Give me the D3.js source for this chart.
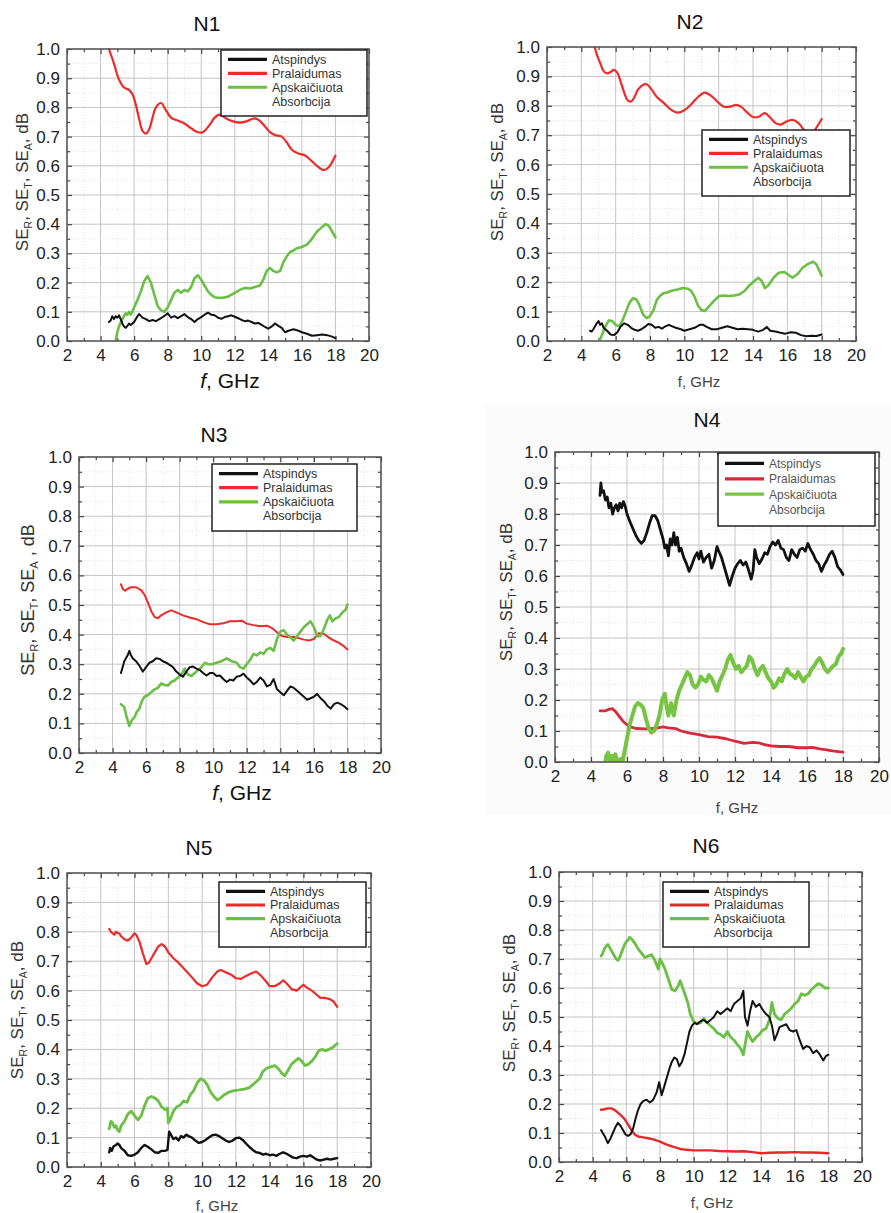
<!DOCTYPE html>
<html><head><meta charset="utf-8">
<script src="https://cdn.jsdelivr.net/npm/d3@7"></script>
<style>body{margin:0;background:#fff}svg{display:block}</style>
</head><body>
<script>
// ---------- DATA ----------
const xTicks = [2,4,6,8,10,12,14,16,18,20];
const yTicks = [0,0.1,0.2,0.3,0.4,0.5,0.6,0.7,0.8,0.9,1.0];
const xMinor = [3,5,7,9,11,13,15,17,19];
const yMinor = [0.05,0.15,0.25,0.35,0.45,0.55,0.65,0.75,0.85,0.95];
const panelTitles = ["N1","N2","N3","N4","N5","N6"];
const legendLabels = ["Atspindys","Pralaidumas","Apskaičiuota","Absorbcija"];

// N1
const n1R = [[4.5,.065],[4.6,.07],[4.7,.085],[4.8,.075],[4.9,.085],[5.0,.08],[5.1,.088],[5.2,.075],[5.3,.06],[5.4,.05],[5.5,.045],[5.6,.052],[5.7,.06],[5.8,.055],[6.0,.065],[6.2,.085],[6.3,.092],[6.5,.08],[6.7,.075],[6.9,.068],[7.1,.072],[7.3,.068],[7.5,.075],[7.7,.082],[7.9,.09],[8.0,.095],[8.2,.08],[8.4,.085],[8.6,.078],[8.8,.085],[9.0,.092],[9.2,.082],[9.4,.075],[9.6,.065],[9.8,.075],[10.0,.082],[10.2,.09],[10.4,.097],[10.6,.09],[10.8,.088],[11.0,.08],[11.2,.076],[11.4,.082],[11.6,.085],[11.8,.088],[12.0,.083],[12.2,.078],[12.4,.072],[12.6,.068],[12.8,.07],[13.0,.065],[13.2,.06],[13.4,.062],[13.6,.055],[13.8,.048],[14.0,.042],[14.2,.05],[14.4,.06],[14.6,.052],[14.8,.045],[15.0,.03],[15.2,.035],[15.5,.04],[15.8,.035],[16.0,.03],[16.3,.025],[16.6,.018],[16.9,.02],[17.2,.022],[17.5,.02],[17.8,.015],[18.0,.01]];
const n1T = [[4.5,1.0],[4.8,.95],[5.1,.895],[5.4,.868],[5.7,.86],[5.9,.845],[6.1,.81],[6.3,.76],[6.5,.72],[6.7,.71],[6.9,.725],[7.1,.765],[7.3,.8],[7.6,.815],[7.9,.79],[8.2,.765],[8.6,.755],[9.0,.745],[9.4,.728],[9.8,.715],[10.1,.715],[10.5,.74],[10.8,.765],[11.1,.775],[11.5,.762],[11.9,.752],[12.3,.748],[12.7,.752],[13.1,.762],[13.4,.758],[13.8,.735],[14.1,.715],[14.4,.705],[14.8,.7],[15.1,.68],[15.4,.655],[15.8,.642],[16.2,.635],[16.6,.615],[17.0,.595],[17.3,.585],[17.6,.595],[18.0,.635]];
const n1A = [[4.9,0],[5.0,.03],[5.1,.05],[5.3,.075],[5.5,.095],[5.6,.09],[5.7,.1],[5.8,.09],[6.0,.115],[6.2,.14],[6.4,.17],[6.6,.205],[6.8,.222],[7.0,.2],[7.2,.16],[7.4,.12],[7.6,.105],[7.8,.1],[8.0,.115],[8.2,.14],[8.4,.165],[8.6,.175],[8.8,.165],[9.0,.175],[9.2,.17],[9.4,.185],[9.6,.215],[9.8,.225],[10.0,.21],[10.2,.19],[10.4,.17],[10.6,.158],[10.8,.15],[11.0,.148],[11.3,.148],[11.6,.152],[12.0,.165],[12.3,.175],[12.6,.182],[12.9,.18],[13.2,.185],[13.5,.19],[13.7,.21],[13.9,.24],[14.1,.25],[14.3,.24],[14.5,.235],[14.7,.24],[14.9,.27],[15.1,.29],[15.3,.305],[15.5,.31],[15.7,.318],[16.0,.322],[16.3,.33],[16.6,.35],[16.9,.375],[17.2,.39],[17.4,.4],[17.6,.395],[17.8,.375],[18.0,.355]];

// N2
const n2R = [[4.5,.035],[4.6,.032],[4.7,.04],[4.8,.05],[4.9,.06],[5.0,.068],[5.1,.055],[5.2,.06],[5.3,.045],[5.5,.035],[5.7,.022],[5.9,.02],[6.1,.03],[6.3,.05],[6.5,.06],[6.7,.055],[6.9,.045],[7.1,.038],[7.3,.035],[7.5,.04],[7.7,.048],[7.9,.058],[8.1,.055],[8.3,.045],[8.5,.048],[8.7,.042],[8.9,.05],[9.1,.055],[9.3,.05],[9.5,.045],[9.8,.04],[10.0,.035],[10.3,.04],[10.6,.045],[10.9,.055],[11.1,.055],[11.3,.048],[11.6,.04],[11.9,.04],[12.2,.045],[12.5,.05],[12.8,.045],[13.1,.04],[13.4,.042],[13.7,.04],[14.0,.038],[14.3,.032],[14.6,.038],[14.8,.048],[15.0,.035],[15.3,.032],[15.6,.028],[15.9,.025],[16.2,.03],[16.5,.028],[16.8,.02],[17.1,.016],[17.4,.018],[17.7,.017],[18.0,.022]];
const n2T = [[4.78,1.0],[4.9,.975],[5.1,.945],[5.3,.918],[5.5,.91],[5.7,.915],[5.9,.922],[6.1,.912],[6.3,.88],[6.5,.845],[6.7,.818],[6.9,.815],[7.1,.83],[7.3,.855],[7.6,.872],[7.8,.873],[8.1,.855],[8.4,.83],[8.8,.81],[9.2,.788],[9.6,.777],[10.0,.785],[10.4,.805],[10.8,.83],[11.2,.845],[11.6,.832],[12.0,.81],[12.3,.797],[12.7,.797],[13.0,.803],[13.3,.797],[13.7,.775],[14.0,.762],[14.3,.762],[14.7,.775],[15.0,.76],[15.3,.742],[15.6,.736],[15.9,.745],[16.3,.752],[16.7,.738],[17.0,.715],[17.3,.702],[17.6,.718],[18.0,.755]];
const n2A = [[5.05,0],[5.2,.02],[5.4,.05],[5.6,.07],[5.8,.068],[6.0,.055],[6.2,.05],[6.4,.07],[6.6,.1],[6.8,.13],[7.0,.145],[7.2,.142],[7.4,.12],[7.6,.09],[7.8,.078],[8.0,.085],[8.2,.105],[8.4,.14],[8.6,.155],[8.8,.163],[9.0,.165],[9.3,.172],[9.6,.175],[9.9,.18],[10.2,.178],[10.4,.17],[10.6,.15],[10.8,.12],[11.0,.105],[11.2,.102],[11.4,.115],[11.7,.135],[12.0,.152],[12.3,.155],[12.6,.153],[12.9,.155],[13.2,.158],[13.5,.17],[13.8,.19],[14.1,.205],[14.3,.215],[14.5,.205],[14.7,.18],[14.9,.19],[15.2,.215],[15.5,.232],[15.8,.235],[16.0,.228],[16.3,.215],[16.6,.228],[16.9,.25],[17.2,.262],[17.5,.27],[17.7,.26],[17.9,.235],[18.0,.222]];

// N3
const n3R = [[4.5,.27],[4.6,.29],[4.7,.31],[4.8,.32],[4.9,.33],[5.0,.345],[5.1,.33],[5.2,.32],[5.4,.31],[5.6,.295],[5.8,.275],[6.0,.29],[6.2,.305],[6.4,.31],[6.6,.32],[6.8,.318],[7.0,.31],[7.2,.305],[7.4,.298],[7.6,.29],[7.8,.275],[8.0,.265],[8.2,.258],[8.4,.275],[8.6,.29],[8.8,.292],[9.0,.285],[9.2,.28],[9.4,.27],[9.6,.262],[9.8,.27],[10.0,.27],[10.2,.26],[10.4,.262],[10.6,.25],[10.8,.24],[11.0,.248],[11.2,.245],[11.4,.258],[11.6,.26],[11.8,.268],[12.0,.255],[12.2,.245],[12.4,.232],[12.6,.24],[12.8,.255],[13.0,.245],[13.2,.225],[13.4,.23],[13.6,.25],[13.8,.215],[14.0,.205],[14.2,.195],[14.4,.21],[14.6,.225],[14.8,.22],[15.0,.21],[15.2,.2],[15.4,.19],[15.6,.18],[15.8,.185],[16.0,.19],[16.2,.2],[16.4,.185],[16.6,.175],[16.8,.16],[17.0,.15],[17.2,.165],[17.4,.17],[17.6,.165],[17.8,.158],[18.0,.148]];
const n3T = [[4.5,.57],[4.6,.555],[4.75,.548],[4.9,.555],[5.1,.56],[5.4,.56],[5.7,.55],[5.9,.535],[6.1,.51],[6.3,.48],[6.5,.46],[6.7,.455],[6.9,.465],[7.2,.475],[7.5,.482],[7.8,.475],[8.2,.465],[8.6,.458],[9.0,.452],[9.4,.442],[9.8,.435],[10.2,.435],[10.6,.438],[11.0,.445],[11.4,.445],[11.7,.447],[12.0,.437],[12.4,.432],[12.8,.428],[13.2,.43],[13.5,.422],[13.8,.408],[14.1,.395],[14.4,.392],[14.8,.393],[15.1,.388],[15.4,.383],[15.7,.38],[16.0,.385],[16.3,.405],[16.6,.402],[16.9,.39],[17.2,.38],[17.5,.372],[17.8,.36],[18.0,.35]];
const n3A = [[4.5,.165],[4.6,.16],[4.7,.155],[4.8,.13],[4.9,.11],[5.0,.092],[5.1,.105],[5.2,.115],[5.3,.12],[5.45,.14],[5.6,.15],[5.75,.175],[5.9,.19],[6.1,.195],[6.3,.205],[6.5,.215],[6.7,.22],[6.9,.235],[7.1,.23],[7.3,.228],[7.5,.24],[7.7,.245],[7.9,.255],[8.1,.265],[8.3,.285],[8.5,.265],[8.7,.26],[8.9,.27],[9.1,.28],[9.3,.29],[9.5,.305],[9.7,.3],[9.9,.3],[10.2,.305],[10.5,.31],[10.8,.32],[11.1,.31],[11.4,.305],[11.6,.29],[11.8,.285],[12.0,.3],[12.2,.315],[12.4,.335],[12.6,.33],[12.8,.34],[13.0,.335],[13.2,.35],[13.4,.355],[13.6,.345],[13.8,.385],[14.0,.41],[14.2,.415],[14.4,.4],[14.6,.39],[14.8,.38],[15.0,.395],[15.2,.41],[15.4,.425],[15.6,.435],[15.8,.445],[16.0,.425],[16.2,.395],[16.4,.395],[16.6,.42],[16.8,.45],[16.95,.465],[17.1,.445],[17.3,.455],[17.5,.46],[17.7,.475],[17.9,.485],[18.0,.502]];

// N4
const n4R = [[4.5,.86],[4.55,.9],[4.6,.87],[4.7,.875],[4.8,.845],[4.9,.855],[5.0,.82],[5.1,.835],[5.2,.8],[5.3,.82],[5.4,.83],[5.5,.81],[5.6,.835],[5.7,.82],[5.8,.84],[5.9,.825],[6.0,.8],[6.1,.785],[6.2,.77],[6.35,.75],[6.5,.73],[6.65,.715],[6.8,.705],[6.95,.715],[7.1,.74],[7.25,.77],[7.4,.795],[7.55,.795],[7.7,.78],[7.85,.75],[8.0,.72],[8.1,.69],[8.2,.7],[8.3,.665],[8.4,.72],[8.5,.7],[8.6,.74],[8.7,.7],[8.8,.725],[8.9,.68],[9.0,.69],[9.15,.66],[9.3,.64],[9.45,.615],[9.6,.635],[9.75,.66],[9.9,.675],[10.0,.655],[10.1,.68],[10.25,.645],[10.4,.66],[10.55,.67],[10.7,.625],[10.85,.65],[11.0,.695],[11.1,.68],[11.25,.66],[11.4,.63],[11.55,.6],[11.7,.57],[11.85,.6],[12.0,.625],[12.15,.64],[12.3,.65],[12.45,.635],[12.6,.645],[12.75,.62],[12.9,.59],[13.0,.615],[13.1,.685],[13.2,.66],[13.35,.64],[13.5,.655],[13.65,.675],[13.8,.67],[13.95,.695],[14.1,.71],[14.25,.7],[14.4,.715],[14.55,.69],[14.7,.685],[14.85,.66],[15.0,.65],[15.15,.685],[15.3,.67],[15.45,.66],[15.6,.685],[15.75,.69],[15.9,.68],[16.05,.705],[16.2,.685],[16.35,.67],[16.5,.65],[16.65,.64],[16.8,.615],[16.95,.635],[17.1,.65],[17.25,.67],[17.4,.68],[17.55,.66],[17.7,.63],[17.85,.62],[18.0,.605]];
const n4T = [[4.5,.165],[4.8,.165],[5.0,.17],[5.2,.172],[5.4,.16],[5.6,.145],[5.8,.13],[6.0,.12],[6.2,.113],[6.5,.108],[7.0,.107],[7.5,.108],[8.0,.113],[8.3,.11],[8.7,.108],[9.0,.1],[9.5,.093],[10.0,.088],[10.5,.082],[11.0,.08],[11.5,.075],[12.0,.067],[12.5,.06],[13.0,.063],[13.3,.062],[13.7,.055],[14.0,.052],[14.5,.05],[15.0,.05],[15.5,.046],[16.0,.046],[16.3,.047],[16.7,.042],[17.0,.04],[17.5,.035],[18.0,.032]];
const n4A = [[4.8,0],[4.85,.02],[4.95,.03],[5.05,.005],[5.15,.02],[5.25,0],[5.35,.025],[5.45,.005],[5.55,0],[5.65,.01],[5.75,0],[5.85,.03],[5.95,.06],[6.05,.09],[6.15,.12],[6.3,.15],[6.45,.18],[6.6,.19],[6.75,.185],[6.9,.175],[7.05,.14],[7.2,.11],[7.35,.095],[7.5,.1],[7.65,.12],[7.8,.15],[7.95,.2],[8.1,.22],[8.2,.18],[8.3,.15],[8.45,.19],[8.6,.15],[8.75,.2],[8.9,.23],[9.05,.25],[9.2,.27],[9.35,.29],[9.5,.28],[9.65,.25],[9.8,.24],[9.95,.25],[10.1,.275],[10.25,.265],[10.4,.26],[10.55,.28],[10.7,.27],[10.85,.25],[11.0,.23],[11.15,.26],[11.3,.28],[11.45,.3],[11.6,.33],[11.75,.345],[11.9,.32],[12.05,.3],[12.2,.31],[12.35,.29],[12.5,.3],[12.65,.31],[12.8,.34],[12.95,.33],[13.1,.3],[13.25,.28],[13.4,.3],[13.55,.31],[13.7,.29],[13.85,.27],[14.0,.26],[14.15,.24],[14.3,.25],[14.45,.27],[14.6,.26],[14.75,.285],[14.9,.3],[15.05,.285],[15.2,.28],[15.35,.27],[15.5,.29],[15.65,.275],[15.8,.26],[15.95,.275],[16.1,.28],[16.25,.3],[16.4,.31],[16.55,.325],[16.7,.335],[16.85,.32],[17.0,.3],[17.15,.29],[17.3,.3],[17.45,.31],[17.6,.315],[17.75,.34],[17.9,.35],[18.0,.365]];

// N5
const n5R = [[4.5,.05],[4.55,.065],[4.65,.055],[4.75,.07],[4.9,.075],[5.0,.08],[5.1,.075],[5.2,.065],[5.4,.055],[5.6,.04],[5.8,.038],[6.0,.042],[6.2,.05],[6.4,.065],[6.6,.075],[6.8,.068],[7.0,.06],[7.2,.05],[7.4,.048],[7.6,.055],[7.8,.055],[7.95,.058],[8.05,.12],[8.15,.11],[8.3,.095],[8.45,.1],[8.6,.09],[8.75,.105],[8.9,.1],[9.05,.11],[9.2,.105],[9.4,.1],[9.6,.09],[9.8,.082],[10.0,.085],[10.2,.092],[10.4,.1],[10.6,.108],[10.8,.11],[11.0,.105],[11.2,.098],[11.4,.09],[11.6,.085],[11.8,.09],[12.0,.098],[12.2,.1],[12.4,.092],[12.6,.08],[12.8,.068],[13.0,.058],[13.2,.05],[13.4,.048],[13.6,.042],[13.8,.045],[14.0,.04],[14.2,.042],[14.4,.038],[14.6,.045],[14.8,.05],[15.0,.045],[15.2,.038],[15.4,.032],[15.6,.03],[15.8,.035],[16.0,.038],[16.2,.035],[16.4,.04],[16.6,.032],[16.8,.025],[17.0,.022],[17.2,.025],[17.4,.028],[17.6,.025],[17.8,.028],[18.0,.03]];
const n5T = [[4.5,.81],[4.6,.8],[4.7,.795],[4.8,.79],[4.9,.8],[5.0,.795],[5.1,.795],[5.2,.785],[5.4,.775],[5.6,.77],[5.8,.78],[6.0,.795],[6.1,.79],[6.3,.765],[6.5,.725],[6.7,.69],[6.85,.695],[7.0,.71],[7.2,.73],[7.4,.75],[7.6,.758],[7.8,.75],[8.0,.73],[8.3,.71],[8.6,.695],[9.0,.67],[9.4,.645],[9.7,.625],[10.0,.615],[10.3,.62],[10.6,.645],[10.9,.665],[11.1,.67],[11.4,.662],[11.7,.655],[12.0,.642],[12.3,.64],[12.6,.65],[12.9,.658],[13.2,.665],[13.5,.65],[13.8,.63],[14.0,.615],[14.3,.615],[14.6,.625],[14.8,.635],[15.0,.625],[15.3,.605],[15.6,.6],[15.8,.61],[16.0,.62],[16.2,.61],[16.5,.6],[16.8,.585],[17.0,.575],[17.3,.575],[17.6,.57],[17.8,.562],[18.0,.545]];
const n5A = [[4.5,.13],[4.6,.155],[4.7,.15],[4.8,.135],[4.9,.14],[5.0,.125],[5.1,.12],[5.2,.14],[5.4,.155],[5.6,.18],[5.8,.19],[6.0,.175],[6.2,.16],[6.4,.175],[6.6,.21],[6.8,.235],[7.0,.24],[7.2,.235],[7.4,.225],[7.6,.205],[7.8,.195],[7.95,.2],[8.0,.15],[8.1,.16],[8.3,.19],[8.5,.205],[8.7,.21],[8.9,.225],[9.1,.22],[9.3,.245],[9.5,.26],[9.7,.285],[9.9,.3],[10.1,.295],[10.3,.28],[10.5,.255],[10.7,.24],[10.9,.228],[11.1,.235],[11.3,.245],[11.6,.255],[11.9,.26],[12.2,.262],[12.5,.265],[12.8,.27],[13.1,.285],[13.4,.3],[13.6,.325],[13.8,.335],[14.0,.34],[14.3,.345],[14.5,.335],[14.7,.32],[14.9,.31],[15.1,.33],[15.3,.35],[15.5,.36],[15.7,.37],[15.9,.36],[16.1,.345],[16.3,.35],[16.5,.36],[16.7,.375],[16.9,.395],[17.1,.4],[17.3,.395],[17.5,.4],[17.7,.405],[17.9,.415],[18.0,.42]];

// N6
const n6R = [[4.5,.11],[4.6,.1],[4.75,.085],[4.9,.065],[5.05,.08],[5.2,.1],[5.35,.12],[5.5,.135],[5.65,.125],[5.8,.11],[5.95,.095],[6.1,.09],[6.25,.095],[6.4,.115],[6.55,.15],[6.7,.18],[6.85,.2],[7.0,.21],[7.2,.215],[7.4,.205],[7.6,.215],[7.8,.24],[7.95,.275],[8.1,.23],[8.25,.26],[8.4,.29],[8.55,.32],[8.7,.345],[8.85,.36],[9.0,.355],[9.15,.33],[9.3,.345],[9.45,.37],[9.6,.41],[9.75,.45],[9.9,.47],[10.05,.48],[10.2,.475],[10.4,.485],[10.6,.49],[10.8,.48],[11.0,.49],[11.2,.5],[11.4,.52],[11.6,.51],[11.8,.52],[12.0,.53],[12.2,.52],[12.4,.545],[12.6,.555],[12.8,.565],[12.95,.59],[13.05,.5],[13.2,.47],[13.35,.52],[13.5,.555],[13.7,.535],[13.9,.545],[14.1,.525],[14.3,.51],[14.5,.5],[14.65,.47],[14.8,.42],[14.95,.44],[15.1,.465],[15.3,.47],[15.5,.475],[15.7,.455],[15.9,.45],[16.1,.455],[16.3,.42],[16.5,.39],[16.7,.4],[16.9,.395],[17.1,.375],[17.3,.385],[17.5,.37],[17.7,.35],[17.85,.365],[18.0,.37]];
const n6T = [[4.5,.18],[4.7,.182],[4.9,.185],[5.1,.185],[5.3,.18],[5.5,.17],[5.7,.16],[5.9,.148],[6.1,.13],[6.3,.11],[6.5,.095],[6.7,.088],[7.0,.085],[7.3,.082],[7.6,.078],[8.0,.07],[8.4,.06],[8.8,.052],[9.2,.045],[9.6,.042],[10.0,.04],[10.5,.04],[11.0,.04],[11.5,.038],[12.0,.037],[12.5,.036],[13.0,.037],[13.5,.034],[14.0,.03],[14.5,.032],[15.0,.033],[15.5,.033],[16.0,.034],[16.5,.033],[17.0,.033],[17.5,.032],[18.0,.03]];
const n6A = [[4.5,.71],[4.6,.72],[4.7,.735],[4.8,.745],[4.9,.75],[5.0,.74],[5.1,.73],[5.2,.72],[5.3,.71],[5.4,.7],[5.5,.695],[5.6,.705],[5.7,.72],[5.8,.735],[5.9,.75],[6.0,.76],[6.1,.765],[6.2,.775],[6.3,.77],[6.5,.755],[6.7,.735],[6.9,.72],[7.1,.705],[7.3,.71],[7.5,.715],[7.7,.695],[7.9,.665],[8.0,.7],[8.1,.69],[8.3,.665],[8.5,.63],[8.7,.595],[8.9,.59],[9.1,.61],[9.2,.625],[9.35,.6],[9.5,.575],[9.65,.55],[9.8,.51],[10.0,.485],[10.2,.478],[10.4,.48],[10.6,.495],[10.8,.48],[11.0,.47],[11.2,.46],[11.4,.445],[11.6,.44],[11.8,.43],[12.0,.45],[12.2,.43],[12.4,.42],[12.6,.405],[12.8,.39],[12.95,.37],[13.1,.42],[13.2,.45],[13.35,.43],[13.5,.415],[13.7,.43],[13.9,.44],[14.1,.455],[14.3,.46],[14.5,.49],[14.65,.55],[14.8,.51],[15.0,.495],[15.2,.49],[15.4,.51],[15.6,.52],[15.8,.53],[16.0,.545],[16.2,.555],[16.4,.58],[16.6,.575],[16.8,.58],[17.0,.595],[17.2,.605],[17.4,.615],[17.6,.61],[17.8,.6],[18.0,.6]];

// ---------- LAYOUT ----------
const FONT = "'Liberation Sans', Arial, Helvetica, sans-serif";
const panels = [
  {title:0, R:n1R, T:n1T, A:n1A, l:67, r:369, t:49, b:341, tx:207, ty:31,
   leg:[221,50,146,66], ylx:28, yly:182, ysz:17, xl:{x:230,y:388,size:21,italic:true},
   col:{R:"#111",T:"#ee2a2a",A:"#6cbf45"}, w:{R:2,T:2.2,A:2.6}},
  {title:1, R:n2R, T:n2T, A:n2A, l:547, r:856, t:47, b:341, tx:690, ty:29,
   leg:[702,130,148,66], ylx:503, yly:172, ysz:17, xl:{x:699,y:387,size:15,italic:false},
   col:{R:"#111",T:"#ee2a2a",A:"#6cbf45"}, w:{R:2,T:2.2,A:2.6}},
  {title:2, R:n3R, T:n3T, A:n3A, l:79, r:381, t:457, b:753, tx:214, ty:442,
   leg:[212,464,145,67], ylx:34, yly:600, ysz:18, wide:true, xl:{x:242,y:800,size:21,italic:true},
   col:{R:"#111",T:"#ee2a2a",A:"#6cbf45"}, w:{R:2,T:2,A:2.6}},
  {title:3, R:n4R, T:n4T, A:n4A, l:555, r:879, t:452, b:762, tx:707, ty:427,
   leg:[718,453,157,73], ylx:512, yly:592, ysz:17, xl:{x:737,y:813,size:15,italic:false}, bg:true,
   col:{R:"#111",T:"#d42a3c",A:"#76c442"}, w:{R:2.8,T:2.8,A:4}},
  {title:4, R:n5R, T:n5T, A:n5A, l:67, r:371, t:873, b:1167, tx:199, ty:855,
   leg:[219,882,147,65], ylx:23, yly:1010, ysz:17, xl:{x:217,y:1211,size:15,italic:false},
   col:{R:"#111",T:"#ee2a2a",A:"#6cbf45"}, w:{R:2.4,T:2.2,A:2.8}},
  {title:5, R:n6R, T:n6T, A:n6A, l:559, r:862, t:872, b:1162, tx:706, ty:853,
   leg:[663,882,146,65], ylx:515, yly:1003, ysz:17, xl:{x:712,y:1208,size:15,italic:false},
   col:{R:"#111",T:"#e22a2a",A:"#6cbf45"}, w:{R:2,T:2.4,A:2.8}}
];

const svg = d3.select("body").append("svg").attr("width",891).attr("height",1213)
  .style("font-family",FONT);
svg.append("rect").attr("width",891).attr("height",1213).attr("fill","#fff");

panels.forEach((p,i)=>{
  const g = svg.append("g");
  if(p.bg) g.append("rect").attr("x",485).attr("y",405).attr("width",406).attr("height",410).attr("fill","#fbfbfb");
  const x = d3.scaleLinear().domain([2,20]).range([p.l,p.r]);
  const y = d3.scaleLinear().domain([0,1]).range([p.b,p.t]);
  g.append("rect").attr("x",p.l).attr("y",p.t).attr("width",p.r-p.l).attr("height",p.b-p.t).attr("fill","#fff");

  // minor grid
  g.selectAll(".mgx").data(xMinor).join("line").attr("x1",d=>x(d)).attr("x2",d=>x(d)).attr("y1",p.t).attr("y2",p.b)
    .attr("stroke","#dcdcdc").attr("stroke-width",0.8).attr("stroke-dasharray","1,2");
  g.selectAll(".mgy").data(yMinor).join("line").attr("y1",d=>y(d)).attr("y2",d=>y(d)).attr("x1",p.l).attr("x2",p.r)
    .attr("stroke","#dcdcdc").attr("stroke-width",0.8).attr("stroke-dasharray","1,2");
  // major grid
  g.append("g").selectAll("line").data(xTicks).join("line").attr("x1",d=>x(d)).attr("x2",d=>x(d)).attr("y1",p.t).attr("y2",p.b)
    .attr("stroke","#c4c4c4").attr("stroke-width",1);
  g.append("g").selectAll("line").data(yTicks).join("line").attr("y1",d=>y(d)).attr("y2",d=>y(d)).attr("x1",p.l).attr("x2",p.r)
    .attr("stroke","#c4c4c4").attr("stroke-width",1);

  // axes (inward ticks)
  const tickStyle = s => { s.select(".domain").remove(); s.selectAll(".tick line").attr("stroke","#444").attr("stroke-width",1.2);
    s.selectAll("text").attr("fill","#222").style("font-size","17px").style("font-family",FONT); };
  g.append("g").attr("transform",`translate(0,${p.b})`).call(d3.axisBottom(x).tickValues(xTicks).tickSize(-5).tickPadding(8).tickFormat(d3.format("d"))).call(tickStyle);
  g.append("g").attr("transform",`translate(${p.l},0)`).call(d3.axisLeft(y).tickValues(yTicks).tickSize(-5).tickPadding(7).tickFormat(d3.format(".1f"))).call(tickStyle);
  g.append("g").attr("transform",`translate(0,${p.t})`).call(d3.axisTop(x).tickValues(xTicks).tickSize(-5).tickFormat("")).call(tickStyle);
  g.append("g").attr("transform",`translate(${p.r},0)`).call(d3.axisRight(y).tickValues(yTicks).tickSize(-5).tickFormat("")).call(tickStyle);
  g.append("g").attr("transform",`translate(0,${p.b})`).call(d3.axisBottom(x).tickValues(xMinor).tickSize(-3).tickFormat("")).call(tickStyle);
  g.append("g").attr("transform",`translate(0,${p.t})`).call(d3.axisTop(x).tickValues(xMinor).tickSize(-3).tickFormat("")).call(tickStyle);
  g.append("g").attr("transform",`translate(${p.l},0)`).call(d3.axisLeft(y).tickValues(yMinor).tickSize(-3).tickFormat("")).call(tickStyle);
  g.append("g").attr("transform",`translate(${p.r},0)`).call(d3.axisRight(y).tickValues(yMinor).tickSize(-3).tickFormat("")).call(tickStyle);

  // clip
  const cid = "clip"+i;
  g.append("clipPath").attr("id",cid).append("rect").attr("x",p.l).attr("y",p.t-2).attr("width",p.r-p.l).attr("height",p.b-p.t+2);
  const lineLin = d3.line().x(d=>x(d[0])).y(d=>y(d[1]));
  const lineSmooth = d3.line().x(d=>x(d[0])).y(d=>y(d[1])).curve(d3.curveCatmullRom.alpha(0.5));
  const lg = g.append("g").attr("clip-path",`url(#${cid})`);
  ["T","A","R"].forEach(k=>{
    const smooth = (k==="T" && i<2);
    lg.append("path").datum(p[k]).attr("d", smooth?lineSmooth:lineLin).attr("fill","none")
      .attr("stroke",p.col[k]).attr("stroke-width",p.w[k]).attr("stroke-linejoin","round").attr("stroke-linecap","round");
  });

  // frame
  g.append("rect").attr("x",p.l).attr("y",p.t).attr("width",p.r-p.l).attr("height",p.b-p.t)
    .attr("fill","none").attr("stroke","#555").attr("stroke-width",1.5);

  // legend
  const [lx,ly,lw,lh] = p.leg;
  const L = g.append("g");
  L.append("rect").attr("x",lx).attr("y",ly).attr("width",lw).attr("height",lh).attr("fill","#fff").attr("stroke","#222").attr("stroke-width",1.5);
  const rowDy = lh/4.75;
  ["R","T","A"].forEach((k,j)=>{
    const yy = ly + rowDy*(j+0.68);
    L.append("line").attr("x1",lx+7).attr("x2",lx+46).attr("y1",yy).attr("y2",yy).attr("stroke",p.col[k]).attr("stroke-width",3.2);
  });
  legendLabels.forEach((t,j)=>{
    const yy = ly + rowDy*(j+0.68);
    L.append("text").attr("x",lx+51).attr("y",yy+4.5).text(t).attr("fill",i===3?"#555":"#333")
      .style("font-size", i===3?"12px":"12.5px");
  });

  // title
  g.append("text").attr("x",p.tx).attr("y",p.ty).attr("text-anchor","middle").style("font-size","21px").attr("fill","#111").text(panelTitles[p.title]);

  // y label with subscripts
  const yl = g.append("text").attr("transform",`translate(${p.ylx},${p.yly}) rotate(-90)`).attr("text-anchor","middle")
    .style("font-size",p.ysz+"px").attr("fill","#333");
  const sep = p.wide ? ",  " : ", ";
  const subSize = (p.ysz*0.62)+"px";
  yl.append("tspan").text("SE");
  yl.append("tspan").text("R").attr("dy",4).style("font-size",subSize);
  yl.append("tspan").text(sep+"SE").attr("dy",-4);
  yl.append("tspan").text("T").attr("dy",4).style("font-size",subSize);
  yl.append("tspan").text(sep+"SE").attr("dy",-4);
  yl.append("tspan").text("A").attr("dy",4).style("font-size",subSize);
  yl.append("tspan").text(p.wide ? " , dB" : ", dB").attr("dy",-4);

  // x label
  const xl = g.append("text").attr("x",p.xl.x).attr("y",p.xl.y).attr("text-anchor","middle")
    .style("font-size",p.xl.size+"px").attr("fill",p.xl.italic?"#111":"#444");
  xl.append("tspan").text("f").style("font-style",p.xl.italic?"italic":"normal");
  xl.append("tspan").text(", GHz");
});
</script>
</body></html>
